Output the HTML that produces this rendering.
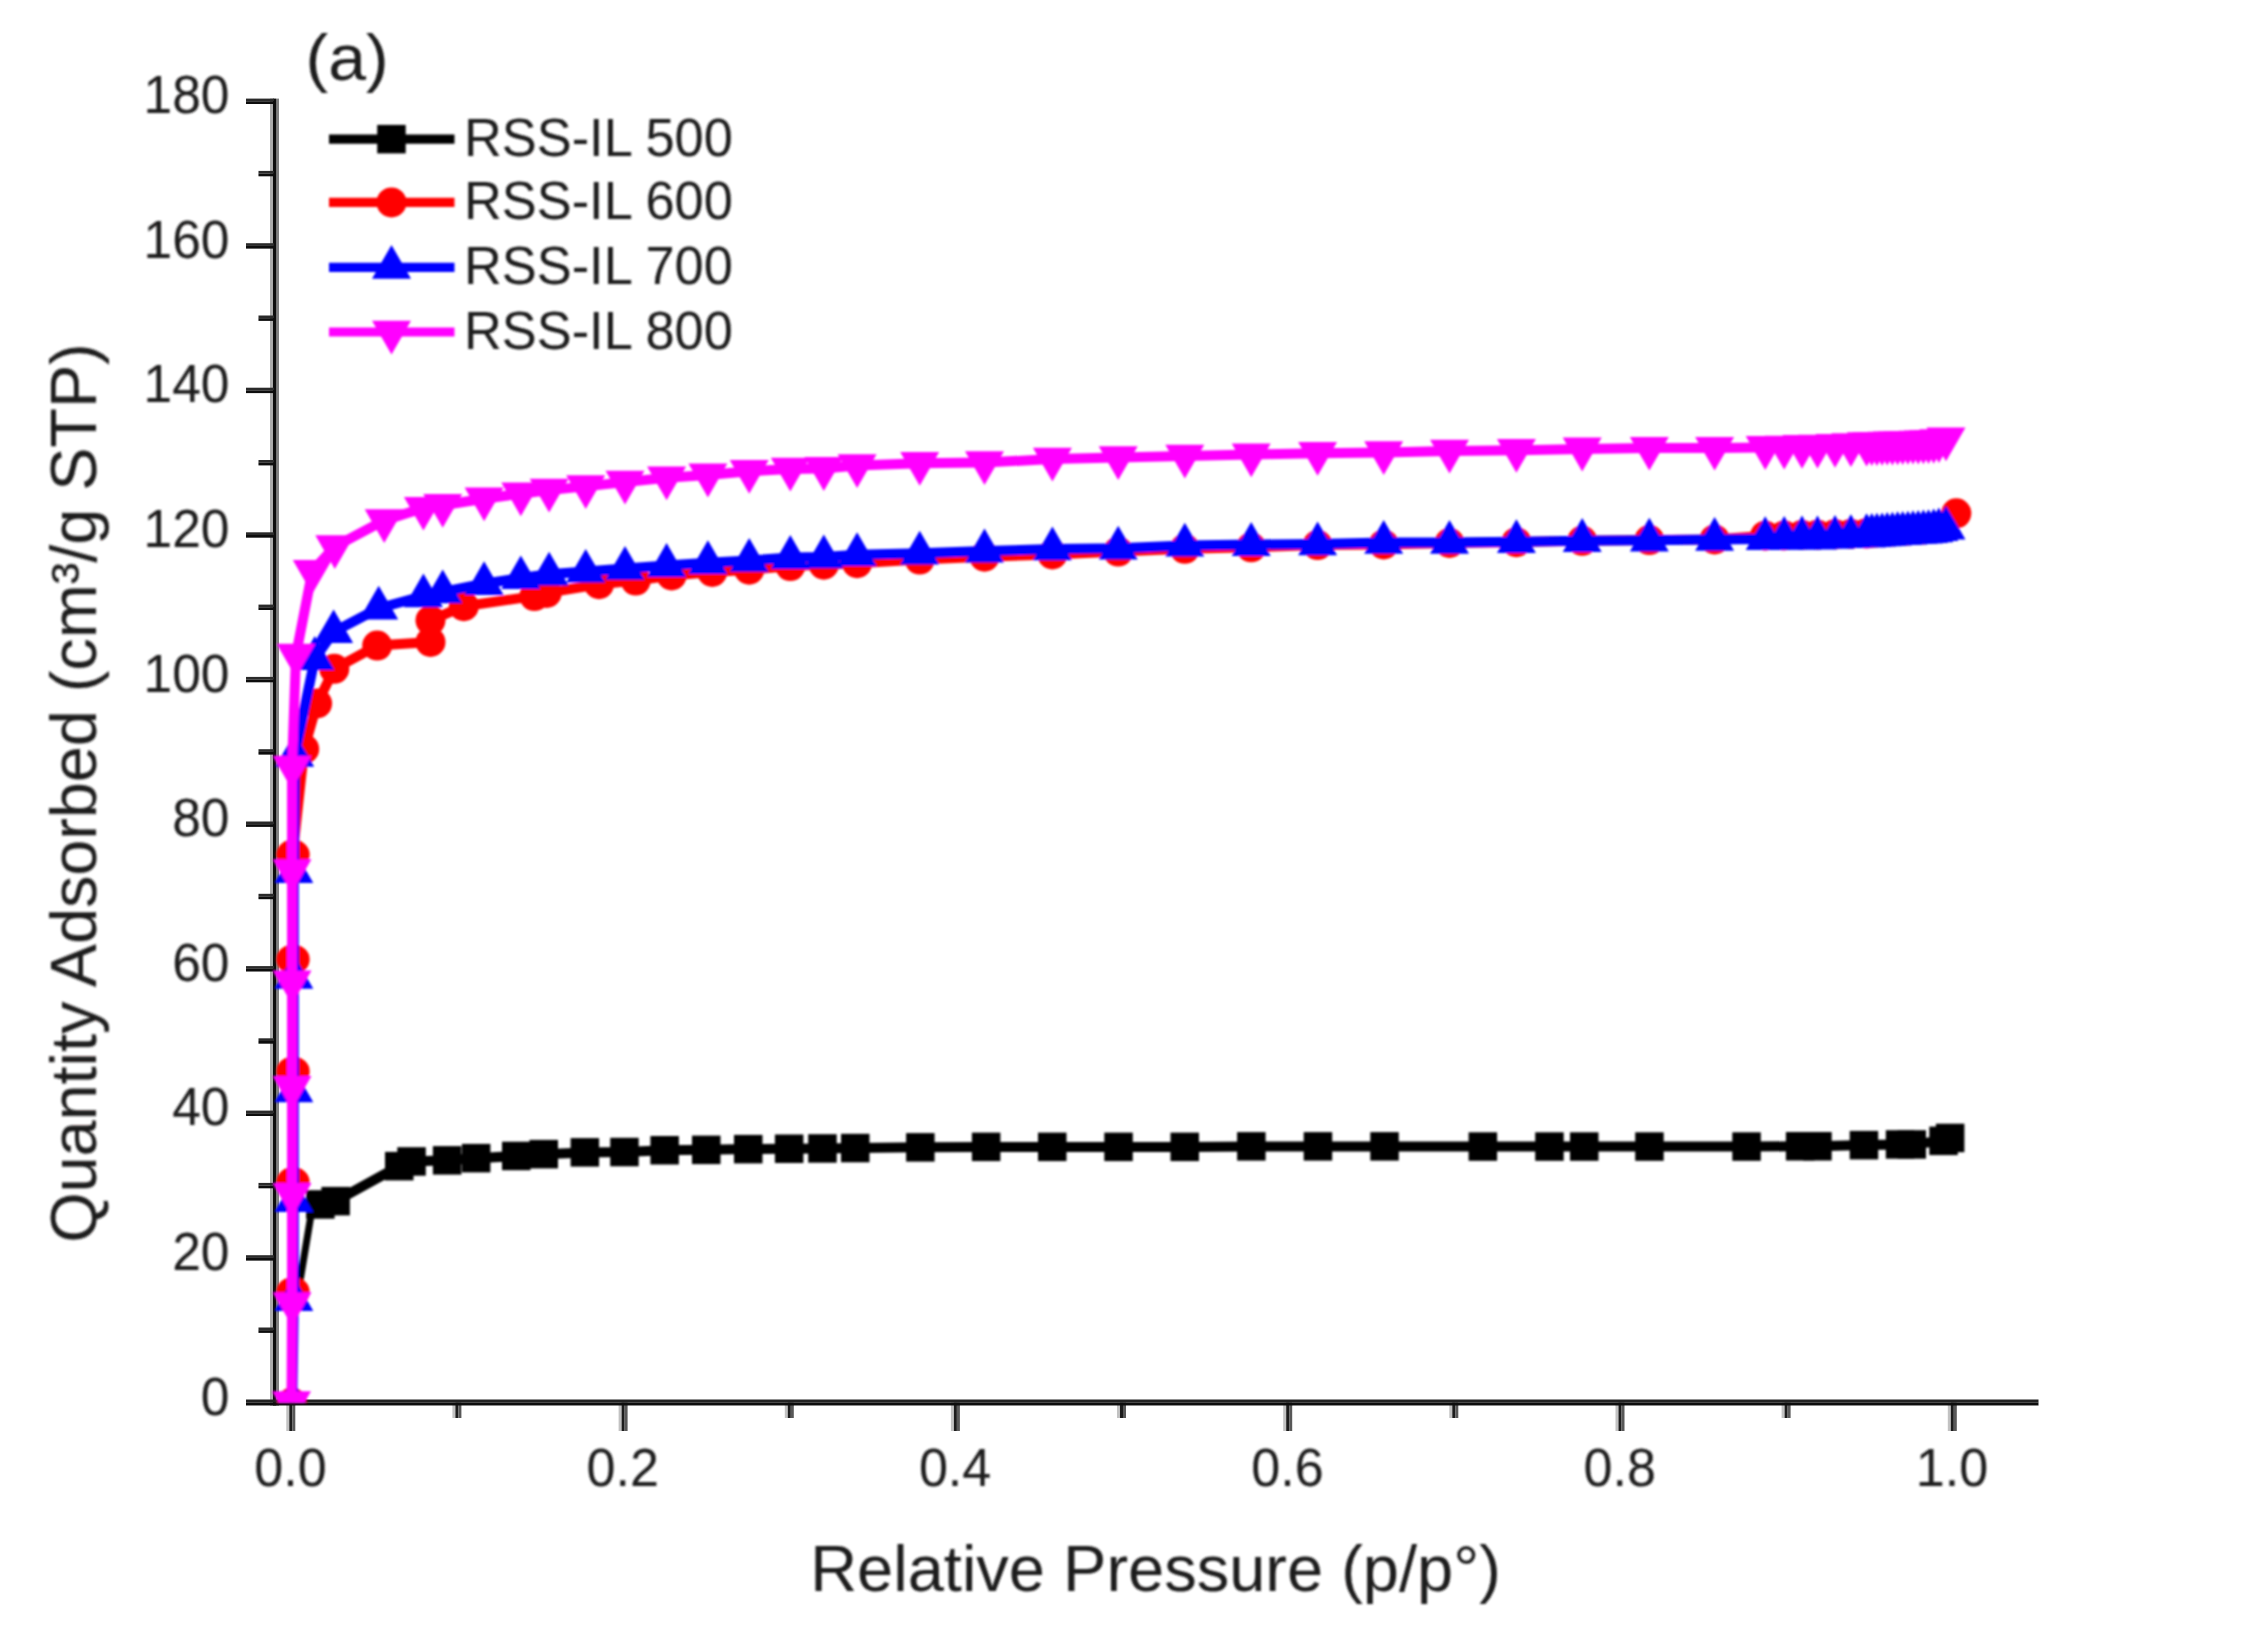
<!DOCTYPE html>
<html lang="en">
<head>
<meta charset="utf-8">
<title>N2 adsorption isotherms (a)</title>
<style>
html, body { margin: 0; padding: 0; background: #ffffff; }
body { width: 2243px; height: 1633px; overflow: hidden; }
svg { display: block; }
</style>
</head>
<body>
<svg width="2243" height="1633" viewBox="0 0 2243 1633">
<defs><filter id="bl0" x="-2%" y="-2%" width="104%" height="104%"><feGaussianBlur stdDeviation="0.45"/></filter><filter id="bl1" x="-2%" y="-2%" width="104%" height="104%"><feGaussianBlur stdDeviation="1.1"/></filter><filter id="bl2" x="-2%" y="-2%" width="104%" height="104%"><feGaussianBlur stdDeviation="0.9"/></filter><clipPath id="plotclip"><rect x="266" y="60" width="1790" height="1343"/></clipPath></defs>
<rect x="0" y="0" width="2243" height="1633" fill="#ffffff"/>
<g filter="url(#bl0)">
<rect x="270" y="98.6" width="3.1" height="1307" fill="#ababab"/>
<rect x="276" y="98.6" width="3" height="1307" fill="#808080"/>
<rect x="273" y="98.6" width="3.1" height="1307" fill="#0c0c0c"/>
<rect x="258.5" y="1327.5" width="15.5" height="2.7" fill="#2a2a2a"/>
<rect x="258.5" y="1330.2" width="15.5" height="2.7" fill="#0a0a0a"/>
<rect x="246" y="1255.2" width="28" height="2.7" fill="#2a2a2a"/>
<rect x="246" y="1257.9" width="28" height="2.7" fill="#0a0a0a"/>
<rect x="258.5" y="1182.9" width="15.5" height="2.7" fill="#2a2a2a"/>
<rect x="258.5" y="1185.6" width="15.5" height="2.7" fill="#0a0a0a"/>
<rect x="246" y="1110.6" width="28" height="2.7" fill="#2a2a2a"/>
<rect x="246" y="1113.3" width="28" height="2.7" fill="#0a0a0a"/>
<rect x="258.5" y="1038.3" width="15.5" height="2.7" fill="#2a2a2a"/>
<rect x="258.5" y="1041" width="15.5" height="2.7" fill="#0a0a0a"/>
<rect x="246" y="966.1" width="28" height="2.7" fill="#2a2a2a"/>
<rect x="246" y="968.8" width="28" height="2.7" fill="#0a0a0a"/>
<rect x="258.5" y="893.8" width="15.5" height="2.7" fill="#2a2a2a"/>
<rect x="258.5" y="896.5" width="15.5" height="2.7" fill="#0a0a0a"/>
<rect x="246" y="821.5" width="28" height="2.7" fill="#2a2a2a"/>
<rect x="246" y="824.2" width="28" height="2.7" fill="#0a0a0a"/>
<rect x="258.5" y="749.2" width="15.5" height="2.7" fill="#2a2a2a"/>
<rect x="258.5" y="751.9" width="15.5" height="2.7" fill="#0a0a0a"/>
<rect x="246" y="676.9" width="28" height="2.7" fill="#2a2a2a"/>
<rect x="246" y="679.6" width="28" height="2.7" fill="#0a0a0a"/>
<rect x="258.5" y="604.6" width="15.5" height="2.7" fill="#2a2a2a"/>
<rect x="258.5" y="607.3" width="15.5" height="2.7" fill="#0a0a0a"/>
<rect x="246" y="532.3" width="28" height="2.7" fill="#2a2a2a"/>
<rect x="246" y="535" width="28" height="2.7" fill="#0a0a0a"/>
<rect x="258.5" y="460" width="15.5" height="2.7" fill="#2a2a2a"/>
<rect x="258.5" y="462.7" width="15.5" height="2.7" fill="#0a0a0a"/>
<rect x="246" y="387.7" width="28" height="2.7" fill="#2a2a2a"/>
<rect x="246" y="390.4" width="28" height="2.7" fill="#0a0a0a"/>
<rect x="258.5" y="315.5" width="15.5" height="2.7" fill="#2a2a2a"/>
<rect x="258.5" y="318.2" width="15.5" height="2.7" fill="#0a0a0a"/>
<rect x="246" y="243.2" width="28" height="2.7" fill="#2a2a2a"/>
<rect x="246" y="245.9" width="28" height="2.7" fill="#0a0a0a"/>
<rect x="258.5" y="170.9" width="15.5" height="2.7" fill="#2a2a2a"/>
<rect x="258.5" y="173.6" width="15.5" height="2.7" fill="#0a0a0a"/>
<rect x="246" y="98.6" width="28" height="2.7" fill="#2a2a2a"/>
<rect x="246" y="101.3" width="28" height="2.7" fill="#0a0a0a"/>
<rect x="286.3" y="1402.5" width="3" height="28.5" fill="#c2c2c2"/>
<rect x="289.3" y="1402.5" width="3" height="28.5" fill="#1c1c1c"/>
<rect x="292.3" y="1402.5" width="3" height="28.5" fill="#585858"/>
<rect x="452.4" y="1402.5" width="3" height="15.5" fill="#c2c2c2"/>
<rect x="455.4" y="1402.5" width="3" height="15.5" fill="#1c1c1c"/>
<rect x="458.4" y="1402.5" width="3" height="15.5" fill="#585858"/>
<rect x="618.6" y="1402.5" width="3" height="28.5" fill="#c2c2c2"/>
<rect x="621.6" y="1402.5" width="3" height="28.5" fill="#1c1c1c"/>
<rect x="624.6" y="1402.5" width="3" height="28.5" fill="#585858"/>
<rect x="784.8" y="1402.5" width="3" height="15.5" fill="#c2c2c2"/>
<rect x="787.8" y="1402.5" width="3" height="15.5" fill="#1c1c1c"/>
<rect x="790.8" y="1402.5" width="3" height="15.5" fill="#585858"/>
<rect x="950.9" y="1402.5" width="3" height="28.5" fill="#c2c2c2"/>
<rect x="953.9" y="1402.5" width="3" height="28.5" fill="#1c1c1c"/>
<rect x="956.9" y="1402.5" width="3" height="28.5" fill="#585858"/>
<rect x="1117" y="1402.5" width="3" height="15.5" fill="#c2c2c2"/>
<rect x="1120" y="1402.5" width="3" height="15.5" fill="#1c1c1c"/>
<rect x="1123" y="1402.5" width="3" height="15.5" fill="#585858"/>
<rect x="1283.2" y="1402.5" width="3" height="28.5" fill="#c2c2c2"/>
<rect x="1286.2" y="1402.5" width="3" height="28.5" fill="#1c1c1c"/>
<rect x="1289.2" y="1402.5" width="3" height="28.5" fill="#585858"/>
<rect x="1449.3" y="1402.5" width="3" height="15.5" fill="#c2c2c2"/>
<rect x="1452.3" y="1402.5" width="3" height="15.5" fill="#1c1c1c"/>
<rect x="1455.3" y="1402.5" width="3" height="15.5" fill="#585858"/>
<rect x="1615.5" y="1402.5" width="3" height="28.5" fill="#c2c2c2"/>
<rect x="1618.5" y="1402.5" width="3" height="28.5" fill="#1c1c1c"/>
<rect x="1621.5" y="1402.5" width="3" height="28.5" fill="#585858"/>
<rect x="1781.6" y="1402.5" width="3" height="15.5" fill="#c2c2c2"/>
<rect x="1784.6" y="1402.5" width="3" height="15.5" fill="#1c1c1c"/>
<rect x="1787.6" y="1402.5" width="3" height="15.5" fill="#585858"/>
<rect x="1947.8" y="1402.5" width="3" height="28.5" fill="#c2c2c2"/>
<rect x="1950.8" y="1402.5" width="3" height="28.5" fill="#1c1c1c"/>
<rect x="1953.8" y="1402.5" width="3" height="28.5" fill="#585858"/>
<rect x="246" y="1399.5" width="1792.5" height="3" fill="#242424"/>
<rect x="246" y="1402.5" width="1792.5" height="3" fill="#0e0e0e"/>
</g>
<g filter="url(#bl1)"><g clip-path="url(#plotclip)">
<line x1="297.5" y1="1296" x2="312" y2="1209" stroke="#000000" stroke-width="7"/>
<g>
<polyline points="320.3,1204.4 335.6,1201.2 399.2,1166.1 411.5,1161.4 447.2,1160.3 476.1,1158.2 516.3,1156 543.7,1154.2 584.9,1152.4 624.5,1152 664.6,1150.2 706.3,1149.8 748.2,1149.1 789.2,1148.8 822.5,1148.4 855.3,1148 920.4,1147.3 986.1,1146.9 1052.2,1146.9 1118.5,1146.9 1184.8,1146.9 1251.4,1146.4 1318,1146.4 1384.6,1146.4 1482.8,1146.6 1549.4,1146.6 1584.2,1146.6 1649.5,1146.6 1746.5,1146.6 1800.2,1146.2 1817.5,1146.2 1863.9,1145.1 1900.1,1144.4 1911.7,1144.4 1943.5,1140.8 1950.2,1137.9" fill="none" stroke="#000000" stroke-width="10" stroke-linejoin="round"/>
<rect x="306.1" y="1190.2" width="28.5" height="28.5" fill="#000000"/>
<rect x="321.4" y="1186.9" width="28.5" height="28.5" fill="#000000"/>
<rect x="385" y="1151.9" width="28.5" height="28.5" fill="#000000"/>
<rect x="397.3" y="1147.2" width="28.5" height="28.5" fill="#000000"/>
<rect x="432.9" y="1146.1" width="28.5" height="28.5" fill="#000000"/>
<rect x="461.9" y="1143.9" width="28.5" height="28.5" fill="#000000"/>
<rect x="502" y="1141.7" width="28.5" height="28.5" fill="#000000"/>
<rect x="529.5" y="1139.9" width="28.5" height="28.5" fill="#000000"/>
<rect x="570.6" y="1138.1" width="28.5" height="28.5" fill="#000000"/>
<rect x="610.2" y="1137.8" width="28.5" height="28.5" fill="#000000"/>
<rect x="650.4" y="1136" width="28.5" height="28.5" fill="#000000"/>
<rect x="692" y="1135.6" width="28.5" height="28.5" fill="#000000"/>
<rect x="734" y="1134.9" width="28.5" height="28.5" fill="#000000"/>
<rect x="774.9" y="1134.5" width="28.5" height="28.5" fill="#000000"/>
<rect x="808.2" y="1134.2" width="28.5" height="28.5" fill="#000000"/>
<rect x="841" y="1133.8" width="28.5" height="28.5" fill="#000000"/>
<rect x="906.1" y="1133.1" width="28.5" height="28.5" fill="#000000"/>
<rect x="971.9" y="1132.6" width="28.5" height="28.5" fill="#000000"/>
<rect x="1038" y="1132.6" width="28.5" height="28.5" fill="#000000"/>
<rect x="1104.3" y="1132.6" width="28.5" height="28.5" fill="#000000"/>
<rect x="1170.5" y="1132.6" width="28.5" height="28.5" fill="#000000"/>
<rect x="1237.1" y="1132.1" width="28.5" height="28.5" fill="#000000"/>
<rect x="1303.7" y="1132.1" width="28.5" height="28.5" fill="#000000"/>
<rect x="1370.3" y="1132.1" width="28.5" height="28.5" fill="#000000"/>
<rect x="1468.6" y="1132.3" width="28.5" height="28.5" fill="#000000"/>
<rect x="1535.2" y="1132.3" width="28.5" height="28.5" fill="#000000"/>
<rect x="1570" y="1132.3" width="28.5" height="28.5" fill="#000000"/>
<rect x="1635.2" y="1132.3" width="28.5" height="28.5" fill="#000000"/>
<rect x="1732.3" y="1132.3" width="28.5" height="28.5" fill="#000000"/>
<rect x="1785.9" y="1132" width="28.5" height="28.5" fill="#000000"/>
<rect x="1803.2" y="1132" width="28.5" height="28.5" fill="#000000"/>
<rect x="1849.7" y="1130.9" width="28.5" height="28.5" fill="#000000"/>
<rect x="1885.8" y="1130.2" width="28.5" height="28.5" fill="#000000"/>
<rect x="1897.5" y="1130.2" width="28.5" height="28.5" fill="#000000"/>
<rect x="1929.3" y="1126.6" width="28.5" height="28.5" fill="#000000"/>
<rect x="1935.9" y="1123.7" width="28.5" height="28.5" fill="#000000"/>
</g>
<g>
<polyline points="291.8,1402.5 292.7,1291.9 292.7,1182 292.7,1071.4 292.7,959.4 292.7,854.5 304.2,749 317.1,703.5 334.3,668.8 377.2,645.6 430.5,642 430.5,620.3 463.8,606.2 534.4,596.1 546.7,592.9 599,584.2 635.7,580.6 671.6,575.5 712.2,571.9 749.2,569.7 790.3,566.1 823.8,564.7 857.1,563.2 919.7,559.6 984.5,556.7 1052.4,554.5 1118.2,551.6 1184.8,548.8 1251.2,547.3 1317.6,545.1 1383.7,544.4 1449.5,543 1516.4,542.2 1582.2,540.8 1649.3,540.1 1714.6,539.4 1765.2,535.7 1784.2,535.4 1802,535 1817.5,534.7 1835,534.3 1850.9,533.9 1866.6,533.6 1866.6,533.2 1871.8,532.9 1876.9,532.5 1882.1,532.2 1887.2,531.8 1892.4,531.5 1897.6,531.1 1902.7,530.8 1907.9,530.5 1913,530.1 1918.2,529.7 1923.4,529.4 1928.5,529 1933.7,528.3 1938.9,527.1 1956.3,513.3" fill="none" stroke="#ff0000" stroke-width="10" stroke-linejoin="round"/>
<circle cx="291.8" cy="1402.5" r="15" fill="#ff0000"/>
<ellipse cx="293" cy="1291.9" rx="16.7" ry="15" fill="#ff0000"/>
<ellipse cx="293" cy="1182" rx="16.7" ry="15" fill="#ff0000"/>
<ellipse cx="293" cy="1071.4" rx="16.7" ry="15" fill="#ff0000"/>
<ellipse cx="293" cy="959.4" rx="16.7" ry="15" fill="#ff0000"/>
<ellipse cx="293" cy="854.5" rx="16.7" ry="15" fill="#ff0000"/>
<circle cx="304.2" cy="749" r="15" fill="#ff0000"/>
<circle cx="317.1" cy="703.5" r="15" fill="#ff0000"/>
<circle cx="334.3" cy="668.8" r="15" fill="#ff0000"/>
<circle cx="377.2" cy="645.6" r="15" fill="#ff0000"/>
<circle cx="430.5" cy="642" r="15" fill="#ff0000"/>
<circle cx="430.5" cy="620.3" r="15" fill="#ff0000"/>
<circle cx="463.8" cy="606.2" r="15" fill="#ff0000"/>
<circle cx="534.4" cy="596.1" r="15" fill="#ff0000"/>
<circle cx="546.7" cy="592.9" r="15" fill="#ff0000"/>
<circle cx="599" cy="584.2" r="15" fill="#ff0000"/>
<circle cx="635.7" cy="580.6" r="15" fill="#ff0000"/>
<circle cx="671.6" cy="575.5" r="15" fill="#ff0000"/>
<circle cx="712.2" cy="571.9" r="15" fill="#ff0000"/>
<circle cx="749.2" cy="569.7" r="15" fill="#ff0000"/>
<circle cx="790.3" cy="566.1" r="15" fill="#ff0000"/>
<circle cx="823.8" cy="564.7" r="15" fill="#ff0000"/>
<circle cx="857.1" cy="563.2" r="15" fill="#ff0000"/>
<circle cx="919.7" cy="559.6" r="15" fill="#ff0000"/>
<circle cx="984.5" cy="556.7" r="15" fill="#ff0000"/>
<circle cx="1052.4" cy="554.5" r="15" fill="#ff0000"/>
<circle cx="1118.2" cy="551.6" r="15" fill="#ff0000"/>
<circle cx="1184.8" cy="548.8" r="15" fill="#ff0000"/>
<circle cx="1251.2" cy="547.3" r="15" fill="#ff0000"/>
<circle cx="1317.6" cy="545.1" r="15" fill="#ff0000"/>
<circle cx="1383.7" cy="544.4" r="15" fill="#ff0000"/>
<circle cx="1449.5" cy="543" r="15" fill="#ff0000"/>
<circle cx="1516.4" cy="542.2" r="15" fill="#ff0000"/>
<circle cx="1582.2" cy="540.8" r="15" fill="#ff0000"/>
<circle cx="1649.3" cy="540.1" r="15" fill="#ff0000"/>
<circle cx="1714.6" cy="539.4" r="15" fill="#ff0000"/>
<circle cx="1765.2" cy="535.7" r="15" fill="#ff0000"/>
<circle cx="1784.2" cy="535.4" r="15" fill="#ff0000"/>
<circle cx="1802" cy="535" r="15" fill="#ff0000"/>
<circle cx="1817.5" cy="534.7" r="15" fill="#ff0000"/>
<circle cx="1835" cy="534.3" r="15" fill="#ff0000"/>
<circle cx="1850.9" cy="533.9" r="15" fill="#ff0000"/>
<circle cx="1866.6" cy="533.6" r="15" fill="#ff0000"/>
<circle cx="1866.6" cy="533.2" r="15" fill="#ff0000"/>
<circle cx="1871.8" cy="532.9" r="15" fill="#ff0000"/>
<circle cx="1876.9" cy="532.5" r="15" fill="#ff0000"/>
<circle cx="1882.1" cy="532.2" r="15" fill="#ff0000"/>
<circle cx="1887.2" cy="531.8" r="15" fill="#ff0000"/>
<circle cx="1892.4" cy="531.5" r="15" fill="#ff0000"/>
<circle cx="1897.6" cy="531.1" r="15" fill="#ff0000"/>
<circle cx="1902.7" cy="530.8" r="15" fill="#ff0000"/>
<circle cx="1907.9" cy="530.5" r="15" fill="#ff0000"/>
<circle cx="1913" cy="530.1" r="15" fill="#ff0000"/>
<circle cx="1918.2" cy="529.7" r="15" fill="#ff0000"/>
<circle cx="1923.4" cy="529.4" r="15" fill="#ff0000"/>
<circle cx="1928.5" cy="529" r="15" fill="#ff0000"/>
<circle cx="1933.7" cy="528.3" r="15" fill="#ff0000"/>
<circle cx="1938.9" cy="527.1" r="15" fill="#ff0000"/>
<circle cx="1956.3" cy="513.3" r="15" fill="#ff0000"/>
</g>
<g>
<polyline points="292.3,1402.5 293.8,1299.8 293.8,1200.8 293.8,1090.9 293.8,977.4 293.8,871.9 294.7,755.5 314.8,658.6 333.6,631.9 378.7,608.2 423.4,596 442.7,592 484.1,583.7 520.8,577.9 549.1,574.3 585.7,571.4 625,568.5 666.6,565.6 707.9,562.7 749.2,560.5 790.3,557.6 823.8,556.9 857.1,554.8 919.7,553.3 984.5,551.1 1052.4,549 1118.2,548.2 1184.8,545.4 1251.2,544.6 1317.6,543.9 1383.7,542.5 1449.5,542.5 1516.4,541.7 1582.2,540.7 1649.3,540.3 1714.6,539.6 1765.2,538.9 1784.2,538.5 1802,538.1 1817.5,538.1 1835,537.4 1850.9,536.7 1866.6,536 1866.6,536 1871.8,535.6 1876.9,535.2 1882.1,534.9 1887.2,534.6 1892.4,534.2 1897.6,533.9 1902.7,533.5 1907.9,533.2 1913,532.9 1918.2,532.5 1923.4,532.1 1928.5,531.8 1933.7,531 1938.9,529.9 1946,528.4" fill="none" stroke="#0000ff" stroke-width="10" stroke-linejoin="round"/>
<polygon points="292.3,1380 272.8,1413.8 311.8,1413.8" fill="#0000ff"/>
<polygon points="293.8,1277.3 274.3,1311.1 313.3,1311.1" fill="#0000ff"/>
<polygon points="293.8,1178.3 274.3,1212.1 313.3,1212.1" fill="#0000ff"/>
<polygon points="293.8,1068.4 274.3,1102.2 313.3,1102.2" fill="#0000ff"/>
<polygon points="293.8,954.9 274.3,988.7 313.3,988.7" fill="#0000ff"/>
<polygon points="293.8,849.4 274.3,883.1 313.3,883.1" fill="#0000ff"/>
<polygon points="294.7,733 275.2,766.8 314.2,766.8" fill="#0000ff"/>
<polygon points="314.8,636.1 295.3,669.9 334.3,669.9" fill="#0000ff"/>
<polygon points="333.6,609.4 314.1,643.1 353.1,643.1" fill="#0000ff"/>
<polygon points="378.7,585.7 359.2,619.5 398.2,619.5" fill="#0000ff"/>
<polygon points="423.4,573.4 403.9,607.2 442.9,607.2" fill="#0000ff"/>
<polygon points="442.7,569.5 423.2,603.2 462.2,603.2" fill="#0000ff"/>
<polygon points="484.1,561.2 464.6,594.9 503.6,594.9" fill="#0000ff"/>
<polygon points="520.8,555.4 501.3,589.1 540.3,589.1" fill="#0000ff"/>
<polygon points="549.1,551.8 529.6,585.5 568.6,585.5" fill="#0000ff"/>
<polygon points="585.7,548.9 566.2,582.6 605.2,582.6" fill="#0000ff"/>
<polygon points="625,546 605.5,579.7 644.5,579.7" fill="#0000ff"/>
<polygon points="666.6,543.1 647.1,576.9 686.1,576.9" fill="#0000ff"/>
<polygon points="707.9,540.2 688.4,574 727.4,574" fill="#0000ff"/>
<polygon points="749.2,538 729.7,571.8 768.7,571.8" fill="#0000ff"/>
<polygon points="790.3,535.1 770.8,568.9 809.8,568.9" fill="#0000ff"/>
<polygon points="823.8,534.4 804.3,568.2 843.3,568.2" fill="#0000ff"/>
<polygon points="857.1,532.2 837.6,566 876.6,566" fill="#0000ff"/>
<polygon points="919.7,530.8 900.2,564.6 939.2,564.6" fill="#0000ff"/>
<polygon points="984.5,528.6 965,562.4 1004,562.4" fill="#0000ff"/>
<polygon points="1052.4,526.5 1032.9,560.2 1071.9,560.2" fill="#0000ff"/>
<polygon points="1118.2,525.7 1098.7,559.5 1137.7,559.5" fill="#0000ff"/>
<polygon points="1184.8,522.8 1165.3,556.6 1204.3,556.6" fill="#0000ff"/>
<polygon points="1251.2,522.1 1231.7,555.9 1270.7,555.9" fill="#0000ff"/>
<polygon points="1317.6,521.4 1298.1,555.2 1337.1,555.2" fill="#0000ff"/>
<polygon points="1383.7,519.9 1364.2,553.7 1403.2,553.7" fill="#0000ff"/>
<polygon points="1449.5,519.9 1430,553.7 1469,553.7" fill="#0000ff"/>
<polygon points="1516.4,519.2 1496.9,553 1535.9,553" fill="#0000ff"/>
<polygon points="1582.2,518.1 1562.7,551.9 1601.7,551.9" fill="#0000ff"/>
<polygon points="1649.3,517.8 1629.8,551.6 1668.8,551.6" fill="#0000ff"/>
<polygon points="1714.6,517.1 1695.1,550.8 1734.1,550.8" fill="#0000ff"/>
<polygon points="1765.2,516.3 1745.7,550.1 1784.7,550.1" fill="#0000ff"/>
<polygon points="1784.2,516 1764.7,549.7 1803.7,549.7" fill="#0000ff"/>
<polygon points="1802,515.6 1782.5,549.4 1821.5,549.4" fill="#0000ff"/>
<polygon points="1817.5,515.6 1798,549.4 1837,549.4" fill="#0000ff"/>
<polygon points="1835,514.9 1815.5,548.7 1854.5,548.7" fill="#0000ff"/>
<polygon points="1850.9,514.2 1831.4,547.9 1870.4,547.9" fill="#0000ff"/>
<polygon points="1866.6,513.4 1847.1,547.2 1886.1,547.2" fill="#0000ff"/>
<polygon points="1866.6,513.4 1847.1,547.2 1886.1,547.2" fill="#0000ff"/>
<polygon points="1871.8,513.1 1852.3,546.9 1891.3,546.9" fill="#0000ff"/>
<polygon points="1876.9,512.7 1857.4,546.5 1896.4,546.5" fill="#0000ff"/>
<polygon points="1882.1,512.4 1862.6,546.2 1901.6,546.2" fill="#0000ff"/>
<polygon points="1887.2,512.1 1867.7,545.8 1906.7,545.8" fill="#0000ff"/>
<polygon points="1892.4,511.7 1872.9,545.5 1911.9,545.5" fill="#0000ff"/>
<polygon points="1897.6,511.3 1878.1,545.1 1917.1,545.1" fill="#0000ff"/>
<polygon points="1902.7,511 1883.2,544.8 1922.2,544.8" fill="#0000ff"/>
<polygon points="1907.9,510.7 1888.4,544.5 1927.4,544.5" fill="#0000ff"/>
<polygon points="1913,510.3 1893.5,544.1 1932.5,544.1" fill="#0000ff"/>
<polygon points="1918.2,510 1898.7,543.7 1937.7,543.7" fill="#0000ff"/>
<polygon points="1923.4,509.6 1903.9,543.4 1942.9,543.4" fill="#0000ff"/>
<polygon points="1928.5,509.3 1909,543 1948,543" fill="#0000ff"/>
<polygon points="1933.7,508.5 1914.2,542.3 1953.2,542.3" fill="#0000ff"/>
<polygon points="1938.9,507.4 1919.4,541.1 1958.4,541.1" fill="#0000ff"/>
<polygon points="1946,505.9 1926.5,539.6 1965.5,539.6" fill="#0000ff"/>
</g>
<g>
<polyline points="291.5,1402.5 292,1303.5 292,1194.3 292,1087.3 292,981.8 292,870.4 292,767.1 296,655 312.3,571.2 334.8,546.6 384.2,520.4 423.4,508.1 442.7,505.2 484.1,498.7 520.8,493.7 549.1,490.1 585.7,486.4 625,482.1 666.6,477.8 707.9,474.9 749.2,471.3 790.3,469.1 823.8,468.4 857.1,465.5 919.7,463.3 984.5,462.6 1052.4,459 1118.2,457.5 1184.8,456.1 1251.2,454.6 1317.6,453.2 1383.7,452.5 1449.5,451 1516.4,450.3 1582.2,448.9 1649.3,448.1 1714.6,448.1 1765.2,447.4 1784.2,447 1802,446.3 1817.5,446 1835,445.2 1850.9,444.5 1866.6,443.8 1866.6,443.8 1871.8,443.6 1876.9,443.4 1882.1,443.2 1887.2,443.1 1892.4,442.9 1897.6,442.6 1902.7,442.5 1907.9,442.3 1913,442.1 1918.2,441.9 1923.4,441.7 1928.5,441.5 1933.7,441.3 1938.9,440.5 1946,438.7" fill="none" stroke="#ff00ff" stroke-width="10" stroke-linejoin="round"/>
<polygon points="291.5,1425 272,1391.2 311,1391.2" fill="#ff00ff"/>
<polygon points="292,1326 272.5,1292.2 311.5,1292.2" fill="#ff00ff"/>
<polygon points="292,1216.8 272.5,1183 311.5,1183" fill="#ff00ff"/>
<polygon points="292,1109.8 272.5,1076.1 311.5,1076.1" fill="#ff00ff"/>
<polygon points="292,1004.3 272.5,970.5 311.5,970.5" fill="#ff00ff"/>
<polygon points="292,893 272.5,859.2 311.5,859.2" fill="#ff00ff"/>
<polygon points="292,789.6 272.5,755.8 311.5,755.8" fill="#ff00ff"/>
<polygon points="296,677.5 276.5,643.8 315.5,643.8" fill="#ff00ff"/>
<polygon points="312.3,593.7 292.8,559.9 331.8,559.9" fill="#ff00ff"/>
<polygon points="334.8,569.1 315.3,535.3 354.3,535.3" fill="#ff00ff"/>
<polygon points="384.2,542.9 364.7,509.2 403.7,509.2" fill="#ff00ff"/>
<polygon points="423.4,530.6 403.9,496.9 442.9,496.9" fill="#ff00ff"/>
<polygon points="442.7,527.8 423.2,494 462.2,494" fill="#ff00ff"/>
<polygon points="484.1,521.2 464.6,487.5 503.6,487.5" fill="#ff00ff"/>
<polygon points="520.8,516.2 501.3,482.4 540.3,482.4" fill="#ff00ff"/>
<polygon points="549.1,512.6 529.6,478.8 568.6,478.8" fill="#ff00ff"/>
<polygon points="585.7,509 566.2,475.2 605.2,475.2" fill="#ff00ff"/>
<polygon points="625,504.6 605.5,470.8 644.5,470.8" fill="#ff00ff"/>
<polygon points="666.6,500.3 647.1,466.5 686.1,466.5" fill="#ff00ff"/>
<polygon points="707.9,497.4 688.4,463.6 727.4,463.6" fill="#ff00ff"/>
<polygon points="749.2,493.8 729.7,460 768.7,460" fill="#ff00ff"/>
<polygon points="790.3,491.6 770.8,457.8 809.8,457.8" fill="#ff00ff"/>
<polygon points="823.8,490.9 804.3,457.1 843.3,457.1" fill="#ff00ff"/>
<polygon points="857.1,488 837.6,454.2 876.6,454.2" fill="#ff00ff"/>
<polygon points="919.7,485.8 900.2,452 939.2,452" fill="#ff00ff"/>
<polygon points="984.5,485.1 965,451.3 1004,451.3" fill="#ff00ff"/>
<polygon points="1052.4,481.5 1032.9,447.7 1071.9,447.7" fill="#ff00ff"/>
<polygon points="1118.2,480 1098.7,446.3 1137.7,446.3" fill="#ff00ff"/>
<polygon points="1184.8,478.6 1165.3,444.8 1204.3,444.8" fill="#ff00ff"/>
<polygon points="1251.2,477.2 1231.7,443.4 1270.7,443.4" fill="#ff00ff"/>
<polygon points="1317.6,475.7 1298.1,441.9 1337.1,441.9" fill="#ff00ff"/>
<polygon points="1383.7,475 1364.2,441.2 1403.2,441.2" fill="#ff00ff"/>
<polygon points="1449.5,473.5 1430,439.8 1469,439.8" fill="#ff00ff"/>
<polygon points="1516.4,472.8 1496.9,439 1535.9,439" fill="#ff00ff"/>
<polygon points="1582.2,471.4 1562.7,437.6 1601.7,437.6" fill="#ff00ff"/>
<polygon points="1649.3,470.6 1629.8,436.9 1668.8,436.9" fill="#ff00ff"/>
<polygon points="1714.6,470.6 1695.1,436.9 1734.1,436.9" fill="#ff00ff"/>
<polygon points="1765.2,469.9 1745.7,436.1 1784.7,436.1" fill="#ff00ff"/>
<polygon points="1784.2,469.6 1764.7,435.8 1803.7,435.8" fill="#ff00ff"/>
<polygon points="1802,468.8 1782.5,435.1 1821.5,435.1" fill="#ff00ff"/>
<polygon points="1817.5,468.5 1798,434.7 1837,434.7" fill="#ff00ff"/>
<polygon points="1835,467.8 1815.5,434 1854.5,434" fill="#ff00ff"/>
<polygon points="1850.9,467 1831.4,433.3 1870.4,433.3" fill="#ff00ff"/>
<polygon points="1866.6,466.3 1847.1,432.5 1886.1,432.5" fill="#ff00ff"/>
<polygon points="1866.6,466.3 1847.1,432.5 1886.1,432.5" fill="#ff00ff"/>
<polygon points="1871.8,466.1 1852.3,432.3 1891.3,432.3" fill="#ff00ff"/>
<polygon points="1876.9,465.9 1857.4,432.2 1896.4,432.2" fill="#ff00ff"/>
<polygon points="1882.1,465.7 1862.6,432 1901.6,432" fill="#ff00ff"/>
<polygon points="1887.2,465.6 1867.7,431.8 1906.7,431.8" fill="#ff00ff"/>
<polygon points="1892.4,465.4 1872.9,431.6 1911.9,431.6" fill="#ff00ff"/>
<polygon points="1897.6,465.2 1878.1,431.4 1917.1,431.4" fill="#ff00ff"/>
<polygon points="1902.7,465 1883.2,431.2 1922.2,431.2" fill="#ff00ff"/>
<polygon points="1907.9,464.8 1888.4,431 1927.4,431" fill="#ff00ff"/>
<polygon points="1913,464.6 1893.5,430.9 1932.5,430.9" fill="#ff00ff"/>
<polygon points="1918.2,464.4 1898.7,430.7 1937.7,430.7" fill="#ff00ff"/>
<polygon points="1923.4,464.2 1903.9,430.4 1942.9,430.4" fill="#ff00ff"/>
<polygon points="1928.5,464.1 1909,430.3 1948,430.3" fill="#ff00ff"/>
<polygon points="1933.7,463.8 1914.2,430.1 1953.2,430.1" fill="#ff00ff"/>
<polygon points="1938.9,463.1 1919.4,429.3 1958.4,429.3" fill="#ff00ff"/>
<polygon points="1946,461.2 1926.5,427.5 1965.5,427.5" fill="#ff00ff"/>
</g>
</g></g>
<g font-family="'Liberation Sans', Arial, Helvetica, sans-serif" fill="#1b1a1a" filter="url(#bl2)">
<text transform="translate(229.5 1414.5) scale(0.955 1)" font-size="54" text-anchor="end">0</text>
<text transform="translate(229.5 1269.9) scale(0.955 1)" font-size="54" text-anchor="end">20</text>
<text transform="translate(229.5 1125.3) scale(0.955 1)" font-size="54" text-anchor="end">40</text>
<text transform="translate(229.5 980.8) scale(0.955 1)" font-size="54" text-anchor="end">60</text>
<text transform="translate(229.5 836.2) scale(0.955 1)" font-size="54" text-anchor="end">80</text>
<text transform="translate(229.5 691.6) scale(0.955 1)" font-size="54" text-anchor="end">100</text>
<text transform="translate(229.5 547) scale(0.955 1)" font-size="54" text-anchor="end">120</text>
<text transform="translate(229.5 402.4) scale(0.955 1)" font-size="54" text-anchor="end">140</text>
<text transform="translate(229.5 257.9) scale(0.955 1)" font-size="54" text-anchor="end">160</text>
<text transform="translate(229.5 113.3) scale(0.955 1)" font-size="54" text-anchor="end">180</text>
<text transform="translate(290.5 1486.2) scale(0.965 1)" font-size="54" text-anchor="middle">0.0</text>
<text transform="translate(622.8 1486.2) scale(0.965 1)" font-size="54" text-anchor="middle">0.2</text>
<text transform="translate(955.1 1486.2) scale(0.965 1)" font-size="54" text-anchor="middle">0.4</text>
<text transform="translate(1287.4 1486.2) scale(0.965 1)" font-size="54" text-anchor="middle">0.6</text>
<text transform="translate(1619.7 1486.2) scale(0.965 1)" font-size="54" text-anchor="middle">0.8</text>
<text transform="translate(1952 1486.2) scale(0.965 1)" font-size="54" text-anchor="middle">1.0</text>
<text transform="translate(305.5 79.5) scale(1.055 1)" font-size="64.5" text-anchor="start">(a)</text>
<text transform="translate(1155.5 1591) scale(1.0 1)" font-size="65" text-anchor="middle">Relative Pressure (p/p°)</text>
<text transform="translate(96 793) rotate(-90) scale(0.996 1)" font-size="65" text-anchor="middle">Quantity Adsorbed (cm³/g STP)</text>
</g>
<g filter="url(#bl1)">
<line x1="329" y1="139.2" x2="454.5" y2="139.2" stroke="#000000" stroke-width="9.2"/>
<rect x="377.2" y="124.9" width="28.5" height="28.5" fill="#000000"/>
<text transform="translate(464 156) scale(0.97 1)" font-size="54" font-family="'Liberation Sans', Arial, Helvetica, sans-serif" fill="#1b1a1a">RSS-IL 500</text>
<line x1="329" y1="202.4" x2="454.5" y2="202.4" stroke="#ff0000" stroke-width="9.2"/>
<circle cx="391.5" cy="202.4" r="15" fill="#ff0000"/>
<text transform="translate(464 219.2) scale(0.97 1)" font-size="54" font-family="'Liberation Sans', Arial, Helvetica, sans-serif" fill="#1b1a1a">RSS-IL 600</text>
<line x1="329" y1="267.4" x2="454.5" y2="267.4" stroke="#0000ff" stroke-width="9.2"/>
<polygon points="391.5,244.9 372,278.7 411,278.7" fill="#0000ff"/>
<text transform="translate(464 284.2) scale(0.97 1)" font-size="54" font-family="'Liberation Sans', Arial, Helvetica, sans-serif" fill="#1b1a1a">RSS-IL 700</text>
<line x1="329" y1="332" x2="454.5" y2="332" stroke="#ff00ff" stroke-width="9.2"/>
<polygon points="391.5,354.5 372,320.7 411,320.7" fill="#ff00ff"/>
<text transform="translate(464 348.8) scale(0.97 1)" font-size="54" font-family="'Liberation Sans', Arial, Helvetica, sans-serif" fill="#1b1a1a">RSS-IL 800</text>
</g>
</svg>
</body>
</html>
